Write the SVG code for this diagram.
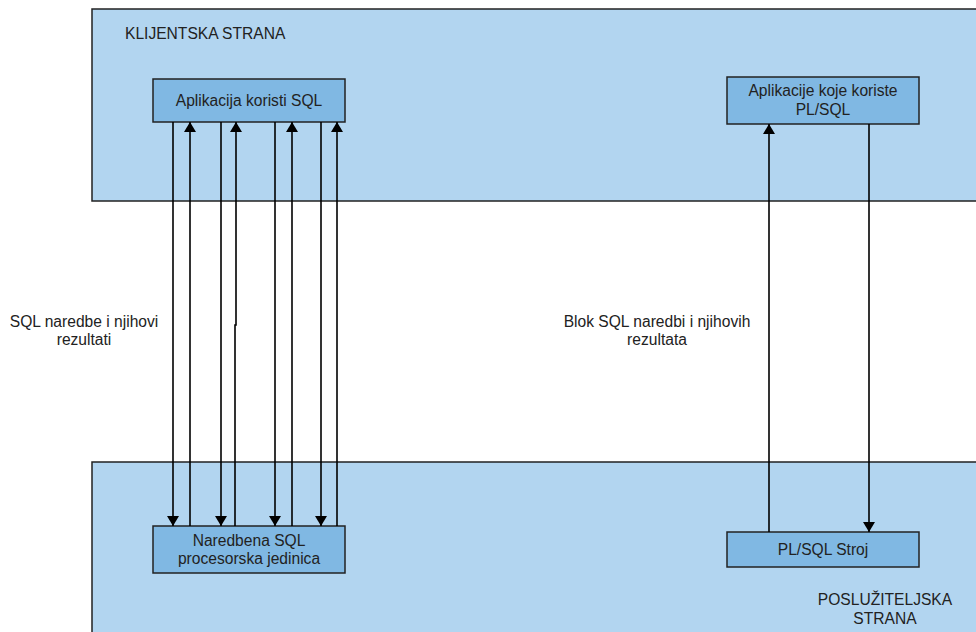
<svg xmlns="http://www.w3.org/2000/svg" width="976" height="632" viewBox="0 0 976 632">
<defs>
<style>
.zone{fill:#b2d5f0;stroke:#222;stroke-width:1.5}
.node{fill:#80b8e3;stroke:#222;stroke-width:1.5}
.t{font-family:"Liberation Sans",Arial,sans-serif;font-size:15.6px;fill:#222}
.c{text-anchor:middle}
.ln{fill:none;stroke:#000;stroke-width:1.6}
</style>
<marker id="ah" viewBox="0 0 10 12" refX="10" refY="6" markerWidth="10" markerHeight="12" markerUnits="userSpaceOnUse" orient="auto">
<path d="M0,0 L10,6 L0,12 Z" fill="#000"/>
</marker>
</defs>
<rect width="976" height="632" fill="#fff"/>
<g id="client-zone">
<rect class="zone" x="92" y="9" width="900" height="192"/>
<text class="t" x="125" y="39">KLIJENTSKA STRANA</text>
</g>
<g id="server-zone">
<rect class="zone" x="92" y="462" width="900" height="190"/>
<text class="t c" x="885" y="605">POSLUŽITELJSKA</text>
<text class="t c" x="885" y="624">STRANA</text>
</g>
<g id="app-sql">
<rect class="node" x="153" y="79" width="192" height="43"/>
<text class="t c" x="249" y="106">Aplikacija koristi SQL</text>
</g>
<g id="app-plsql">
<rect class="node" x="727" y="77" width="192" height="47"/>
<text class="t c" x="823" y="96">Aplikacije koje koriste</text>
<text class="t c" x="823" y="115">PL/SQL</text>
</g>
<g id="sql-unit">
<rect class="node" x="153" y="526" width="192" height="47"/>
<text class="t c" x="249" y="546">Naredbena SQL</text>
<text class="t c" x="249" y="564">procesorska jedinica</text>
</g>
<g id="plsql-engine">
<rect class="node" x="727" y="532" width="192" height="35"/>
<text class="t c" x="823" y="555">PL/SQL Stroj</text>
</g>
<g id="connectors">
<line class="ln" x1="173" y1="122" x2="173" y2="526" marker-end="url(#ah)"/>
<line class="ln" x1="190" y1="526" x2="190" y2="122" marker-end="url(#ah)"/>
<line class="ln" x1="221" y1="122" x2="221" y2="526" marker-end="url(#ah)"/>
<path class="ln" d="M235,526 L235,325 L236,325 L236,122" marker-end="url(#ah)"/>
<line class="ln" x1="275" y1="122" x2="275" y2="526" marker-end="url(#ah)"/>
<line class="ln" x1="292" y1="526" x2="292" y2="122" marker-end="url(#ah)"/>
<line class="ln" x1="321" y1="122" x2="321" y2="526" marker-end="url(#ah)"/>
<line class="ln" x1="337" y1="526" x2="337" y2="122" marker-end="url(#ah)"/>
<line class="ln" x1="769" y1="532" x2="769" y2="124" marker-end="url(#ah)"/>
<line class="ln" x1="869" y1="124" x2="869" y2="532" marker-end="url(#ah)"/>
<text class="t c" x="84" y="327">SQL naredbe i njihovi</text>
<text class="t c" x="84" y="345">rezultati</text>
<text class="t c" x="657" y="327">Blok SQL naredbi i njihovih</text>
<text class="t c" x="657" y="345">rezultata</text>
</g>
</svg>
